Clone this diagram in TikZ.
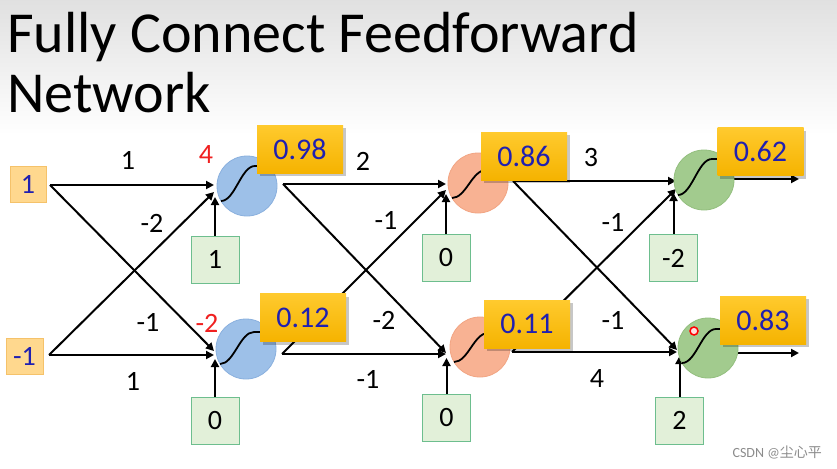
\documentclass[tikz,border=0pt]{standalone}
\usepackage{fontspec}
\setmainfont{Carlito}
\newfontfamily\cjkfont{Noto Sans CJK SC}
\usetikzlibrary{arrows.meta}
\definecolor{numblue}{HTML}{2020B0}
\definecolor{redlab}{HTML}{F02020}
\definecolor{infill}{HTML}{FFD88E}
\definecolor{inedge}{HTML}{F5C26A}
\definecolor{biasfill}{HTML}{E2F0D9}
\definecolor{biasedge}{HTML}{6DBE8E}
\definecolor{goldtop}{HTML}{FFCA2E}
\definecolor{goldbot}{HTML}{F5B300}
\definecolor{bluen}{HTML}{9DC0E8}
\definecolor{bluee}{HTML}{8AB0DE}
\definecolor{orangen}{HTML}{F8B293}
\definecolor{orangee}{HTML}{F2A583}
\definecolor{greenn}{HTML}{A2CB8E}
\definecolor{greene}{HTML}{93BF7E}
\pgfdeclarelayer{back}
\pgfdeclarelayer{lines}
\pgfsetlayers{back,lines,main}
\newcommand\drawsig[3]{\draw[sigline] (#1-26,#2+15) .. controls (#1-12,#2+15) and (#1-6,#2#3) .. (#1+8,#2#3) -- (#1+18,#2#3);}
\begin{document}
\begin{tikzpicture}[x=1pt,y=-1pt,
  inbox/.style={rectangle, draw=inedge, fill=infill, line width=1pt, minimum width=36pt, minimum height=36pt, inner sep=0pt, text=numblue, font=\fontsize{28}{28}\selectfont},
  biasbox/.style={rectangle, draw=biasedge, fill=biasfill, line width=1pt, minimum width=48pt, minimum height=47pt, inner sep=0pt, text=black, font=\fontsize{28}{28}\selectfont},
  outbox/.style={rectangle, minimum width=86pt, minimum height=48pt, inner sep=0pt, top color=goldtop, bottom color=goldbot, draw=none, text=numblue, font=\fontsize{30}{30}\selectfont, preaction={fill=black, opacity=0.22, transform canvas={xshift=2.5pt,yshift=-3pt}}},
  neuron/.style={circle, minimum size=60pt, inner sep=0pt, line width=0.8pt},
  wlab/.style={font=\fontsize{28}{28}\selectfont, inner sep=0pt},
  rlab/.style={font=\fontsize{28}{28}\selectfont, inner sep=0pt, text=redlab},
  conn/.style={line width=2pt, -{Triangle[length=8pt,width=8pt]}},
  sigline/.style={line width=1.8pt, black}
]
\useasboundingbox (0,0) rectangle (837,468);
\begin{pgfonlayer}{back}
\fill[white] (0,0) rectangle (837,468);
\shade[top color=black!12, bottom color=white] (0,0) rectangle (837,135);
\end{pgfonlayer}

% title
\node[anchor=base west, font=\fontsize{58}{58}\selectfont, inner sep=0pt] (t1) at (7,53) {Fully Connect Feedforward};
\node[anchor=base west, font=\fontsize{58}{58}\selectfont, inner sep=0pt] (t2) at (7,113) {Network};

% inputs
\node[inbox] (x1) at (28,184) {1};
\node[inbox, minimum width=37pt] (x2) at (24.5,356) {-1};

% neurons
\node[neuron, fill=bluen, draw=bluee] (n1) at (247,186) {};
\node[neuron, fill=bluen, draw=bluee] (n2) at (246,349) {};
\node[neuron, fill=orangen, draw=orangee] (n3) at (478,183) {};
\node[neuron, fill=orangen, draw=orangee] (n4) at (480,347) {};
\node[neuron, fill=greenn, draw=greene] (n5) at (704,180) {};
\node[neuron, fill=greenn, draw=greene] (n6) at (708,348) {};

% sigmoid curves
\drawsig{247}{186}{-20}
\drawsig{246}{349}{-17}
\drawsig{478}{183}{-13}
\drawsig{480}{347}{-14}
\drawsig{704}{180}{-21}
\drawsig{708}{348}{-19}

% output boxes
\node[outbox] (y1) at (300,149) {0.98};
\node[outbox] (y2) at (303,317.5) {0.12};
\node[outbox] (y3) at (524,156) {0.86};
\node[outbox] (y4) at (527,324) {0.11};
\node[outbox] (y5) at (760.5,151.5) {0.62};
\node[outbox] (y6) at (763,320) {0.83};

% bias boxes
\node[biasbox] (b1) at (215,259.5) {1};
\node[biasbox] (b2) at (215,421) {0};
\node[biasbox] (b3) at (446,258) {0};
\node[biasbox] (b4) at (446.5,418) {0};
\node[biasbox] (b5) at (673.5,258) {-2};
\node[biasbox] (b6) at (679.5,420.5) {2};

% connector end points
\coordinate (s1) at (50,185);
\coordinate (s2) at (49,355);
\coordinate (n1h) at (214,185);
\coordinate (n1d) at (214,192);
\coordinate (n1b) at (214,197);
\coordinate (n2h) at (214,355);
\coordinate (n2d) at (214,351);
\coordinate (n2b) at (214,359);
\coordinate (r1) at (283,184);
\coordinate (r2) at (282,354);
\coordinate (n3h) at (446,184);
\coordinate (n3d) at (446,190);
\coordinate (n3b) at (446,194);
\coordinate (n4h) at (446,354);
\coordinate (n4d) at (446,353);
\coordinate (n4b) at (446,358);
\coordinate (r3) at (513,181);
\coordinate (r4) at (512,352);
\coordinate (n5h) at (676,181);
\coordinate (n5d) at (676,189);
\coordinate (n5b) at (676,193);
\coordinate (n6h) at (677,352);
\coordinate (n6d) at (677,350);
\coordinate (n6b) at (679,356);
\coordinate (r5) at (733,179);
\coordinate (f5) at (799,179);
\coordinate (r6) at (738,353);
\coordinate (f6) at (799,353);

\begin{pgfonlayer}{lines}
\draw[conn] (s1) -- (n1h);
\draw[conn] (s1) -- (n2d);
\draw[conn] (s2) -- (n2h);
\draw[conn] (s2) -- (n1d);
\draw[conn] (b1) -- (b1 |- n1b);
\draw[conn] (b2) -- (b2 |- n2b);
\draw[conn] (r1) -- (n3h);
\draw[conn] (r1) -- (n4d);
\draw[conn] (r2) -- (n4h);
\draw[conn] (r2) -- (n3d);
\draw[conn] (b3) -- (b3 |- n3b);
\draw[conn] (b4) -- (b4 |- n4b);
\draw[conn] (r3) -- (n5h);
\draw[conn] (r3) -- (n6d);
\draw[conn] (r4) -- (n6h);
\draw[conn] (r4) -- (n5d);
\draw[conn] (b5) -- (b5 |- n5b);
\draw[conn] (b6) -- (b6 |- n6b);
\draw[conn] (r5) -- (f5);
\draw[conn] (r6) -- (f6);
\end{pgfonlayer}

% weight labels
\node[wlab] (w1) at (128,160) {1};
\node[wlab] (w2) at (152,223) {-2};
\node[wlab] (w3) at (148,322) {-1};
\node[wlab] (w4) at (133,381) {1};
\node[rlab] (z1) at (206,155) {4};
\node[rlab] (z2) at (207,323) {-2};
\node[wlab] (w5) at (363,161) {2};
\node[wlab] (w6) at (386,220) {-1};
\node[wlab] (w7) at (384,320) {-2};
\node[wlab] (w8) at (368,379) {-1};
\node[wlab] (w9) at (591,158) {3};
\node[wlab] (w10) at (613,222) {-1};
\node[wlab] (w11) at (613,320) {-1};
\node[wlab] (w12) at (597,379) {4};

% pointer mark
\node[circle, draw=red, line width=1.5pt, fill=red!12, minimum size=8pt, inner sep=0pt] (dot) at (694,331) {};

% watermark
\node[anchor=base east, text=black!45, font=\fontsize{14}{14}\selectfont, inner sep=0pt] (wm) at (822,457) {CSDN @{\cjkfont 尘心平}};
\end{tikzpicture}
\end{document}
